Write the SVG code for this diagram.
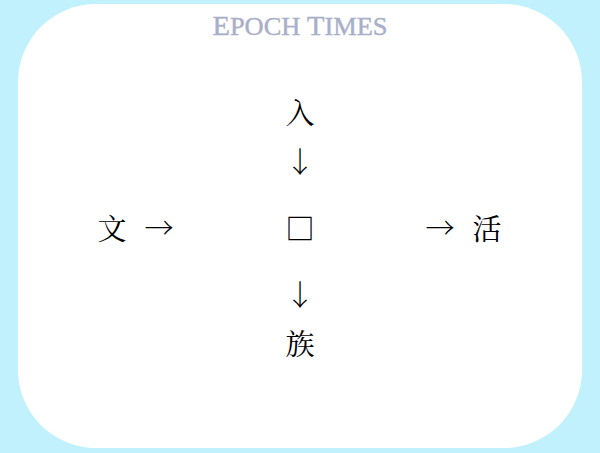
<svg xmlns="http://www.w3.org/2000/svg" width="600" height="453" viewBox="0 0 600 453">
<style>
.c{font-family:"Noto Serif CJK SC","Noto Sans CJK SC","Liberation Serif",serif;font-size:29px;fill:#000;text-anchor:middle;dominant-baseline:central}
.a{font-family:"Noto Serif CJK SC","Noto Sans CJK SC",serif;font-size:29px;fill:#000;text-anchor:middle;dominant-baseline:central}
.logo{font-family:"Liberation Serif","Times New Roman",serif;fill:#a9afc9;text-anchor:middle;stroke:#a9afc9;stroke-width:0.4}
</style>
<rect x="0" y="0" width="600" height="453" fill="#c0f1fd"/>
<rect x="18" y="4" width="564" height="444" rx="78" ry="78" fill="#ffffff"/>
<text class="logo" x="300" y="35" font-size="25" textLength="175" lengthAdjust="spacingAndGlyphs"><tspan font-size="27">E</tspan>POCH <tspan font-size="27">T</tspan>IMES</text>
<g id="n-ren"><text class="c" x="300" y="111">入</text></g>
<g id="n-wen"><text class="c" x="112" y="227">文</text></g>
<g id="n-box"><text class="c" x="300" y="227">□</text></g>
<g id="n-huo"><text class="c" x="487" y="227">活</text></g>
<g id="n-zu"><text class="c" x="300" y="342">族</text></g>
<g id="connectors">
<text class="a" x="300" y="160">↓</text>
<text class="a" x="159" y="226">→</text>
<text class="a" x="440" y="226">→</text>
<text class="a" x="300" y="293">↓</text>
</g>
</svg>
